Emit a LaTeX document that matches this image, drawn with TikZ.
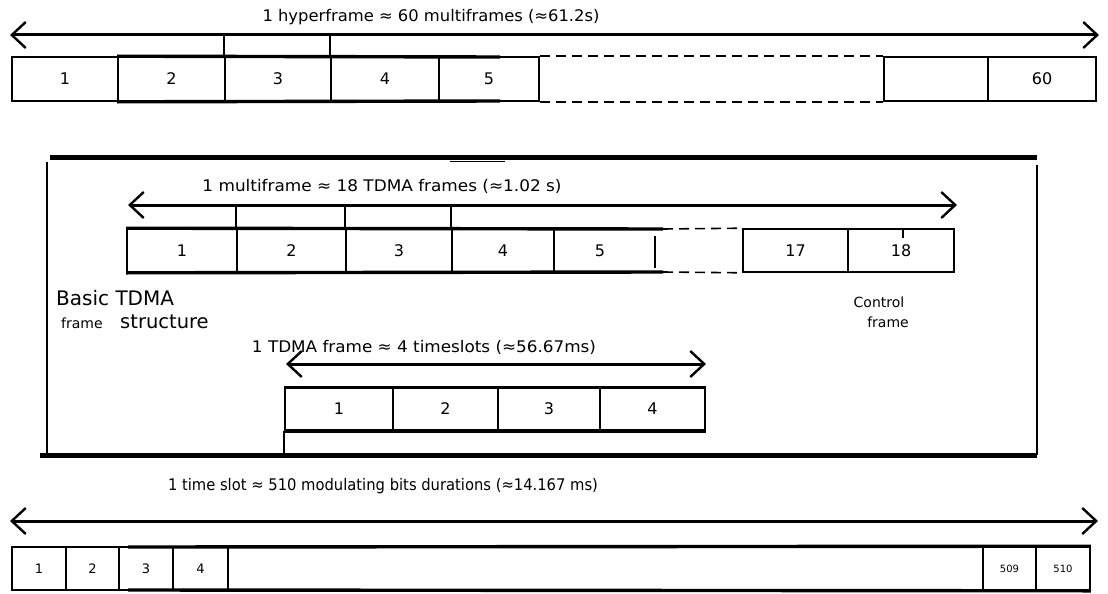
\documentclass[tikz,border=0pt]{standalone}
\usepackage{fontspec}
\setmainfont{DejaVu Sans}
\usepackage{graphicx}
\usetikzlibrary{arrows.meta}
\newcommand{\fitw}[2]{\resizebox{#1}{\height}{#2}}
\begin{document}
\begin{tikzpicture}[x=1pt,y=-1pt,
  >={Straight Barb[length=14pt,width=26pt,line width=2.4pt]},
  arr/.style={<->, line width=3pt},
  cell/.style={draw, line width=1.6pt, inner sep=0pt, font=\fontsize{16}{18}\selectfont},
  smallcell/.style={cell, font=\fontsize{10}{12}\selectfont},
  midcell/.style={cell, font=\fontsize{13}{15}\selectfont},
  thickline/.style={line width=3.4pt},
  frameline/.style={line width=5pt},
  sideline/.style={line width=2.6pt},
  conn/.style={line width=1.8pt},
  lbl/.style={inner sep=0pt, font=\fontsize{16}{18}\selectfont},
  dashline/.style={line width=1.6pt, dash pattern=on 10pt off 6pt}
]
\useasboundingbox (0,0) rectangle (1108,594);

% ---------------- hyperframe ----------------
\coordinate (ha) at (10,35);
\coordinate (hb) at (1099,35);
\draw[arr] (ha) -- (hb);
\node[lbl] (hl) at (431,17) {\fitw{337pt}{1 hyperframe ≈ 60 multiframes (≈61.2s)}};

\node[cell, minimum width=106pt, minimum height=44pt] (h1) at (65,79) {1};
\node[cell, minimum width=107pt, minimum height=44pt] (h2) at (171.5,79) {2};
\node[cell, minimum width=106pt, minimum height=44pt] (h3) at (278,79) {3};
\node[cell, minimum width=108pt, minimum height=44pt] (h4) at (385,79) {4};
\node[cell, minimum width=100pt, minimum height=44pt] (h5) at (489,79) {5};
\node[cell, minimum width=104pt, minimum height=44pt] (h59) at (936,79) {};
\node[cell, minimum width=108pt, minimum height=44pt] (h60) at (1042,79) {60};
\coordinate (h5t) at (500,57);
\coordinate (h5b) at (500,101);
\draw[thickline] (h2.north west) -- (h5t);
\draw[thickline] (h2.south west) -- (h5b);
\draw[dashline] (h5.north east) -- (h59.north west);
\draw[dashline] (h5.south east) -- (h59.south west);
\draw[conn] (h3.north west) -- (h3.north west |- ha);
\draw[conn] (h4.north west) -- (h4.north west |- ha);

% ---------------- basic TDMA frame structure box ----------------
\coordinate (fTL) at (50,157);
\coordinate (fTR) at (1037,157);
\coordinate (fBL) at (40,455);
\coordinate (fBR) at (1037,455);
\draw[frameline] (fTL) -- (fTR);
\draw[frameline] (fBL) -- (fBR);
\draw[sideline] (47,162) -- (47,455);
\draw[sideline] (1037,165) -- (fBR);
\coordinate (sa) at (450,161.5);
\coordinate (sb) at (505,161.5);
\draw[line width=1.4pt] (sa) -- (sb);

% multiframe
\coordinate (ma) at (128,205);
\coordinate (mb) at (957,205);
\draw[arr] (ma) -- (mb);
\node[lbl] (ml) at (382,186) {\fitw{359pt}{1 multiframe ≈ 18 TDMA frames (≈1.02 s)}};

\node[cell, minimum width=110pt, minimum height=43pt] (m1) at (182,250.5) {1};
\node[cell, minimum width=109pt, minimum height=43pt] (m2) at (291.5,250.5) {2};
\node[cell, minimum width=106pt, minimum height=43pt] (m3) at (399,250.5) {3};
\node[cell, minimum width=102pt, minimum height=43pt] (m4) at (503,250.5) {4};
\node[cell, draw=none, minimum width=101pt, minimum height=43pt] (m5) at (600,250.5) {5};
\node[cell, minimum width=105pt, minimum height=43pt] (m17) at (795.5,250.5) {17};
\node[cell, minimum width=106pt, minimum height=43pt] (m18) at (901,250.5) {18};
\coordinate (m5t) at (663,229);
\coordinate (m5b) at (663,272);
\draw[thickline] (m1.north west) -- (m5t);
\draw[thickline] (m1.south west) -- (m5b);
\draw[line width=1.6pt] (655,236) -- (655,268);
\draw[dashline] (m5t) -- (m17.north west);
\draw[dashline] (m5b) -- (m17.south west);
\draw[conn] (m2.north west) -- (m2.north west |- ma);
\draw[conn] (m3.north west) -- (m3.north west |- ma);
\draw[conn] (m4.north west) -- (m4.north west |- ma);
\draw[line width=1.6pt] (903,229) -- (903,238);

\node[lbl, anchor=west, font=\fontsize{20}{22}\selectfont] (basic) at (56,298) {Basic TDMA};
\node[lbl, anchor=base west, font=\fontsize{14}{16}\selectfont] (fr1) at (61,328) {frame};
\node[lbl, anchor=base west, font=\fontsize{19.5}{22}\selectfont] (struct) at (120,328) {structure};
\node[lbl, font=\fontsize{14}{16}\selectfont] (ctl) at (879,302) {Control};
\node[lbl, font=\fontsize{14}{16}\selectfont] (ctf) at (888,322) {frame};

% TDMA frame
\coordinate (ta) at (286,364);
\coordinate (tb) at (706,364);
\draw[arr] (ta) -- (tb);
\node[lbl] (tl) at (424,347) {\fitw{344pt}{1 TDMA frame ≈ 4 timeslots (≈56.67ms)}};
\node[cell, minimum width=108pt, minimum height=42pt] (t1) at (339,409) {1};
\node[cell, minimum width=105pt, minimum height=42pt] (t2) at (445.5,409) {2};
\node[cell, minimum width=102pt, minimum height=42pt] (t3) at (549,409) {3};
\node[cell, minimum width=105pt, minimum height=42pt] (t4) at (652.5,409) {4};
\draw[line width=2.2pt] (t1.north west) -- (t4.north east);
\draw[thickline] (t1.south west) -- (t4.south east);
\draw[conn] (t1.south west) -- (t1.south west |- fBL);

% ---------------- time slot ----------------
\coordinate (sla) at (10,521);
\coordinate (slb) at (1098,521);
\draw[arr] (sla) -- (slb);
\node[lbl] (sl) at (383,486) {\fitw{430pt}{1 time slot ≈ 510 modulating bits durations (≈14.167 ms)}};
\node[midcell, minimum width=54pt, minimum height=43pt] (b1) at (39,568.5) {1};
\node[midcell, minimum width=53pt, minimum height=43pt] (b2) at (92.5,568.5) {2};
\node[midcell, minimum width=54pt, minimum height=43pt] (b3) at (146,568.5) {3};
\node[midcell, minimum width=55pt, minimum height=43pt] (b4) at (200.5,568.5) {4};
\node[cell, minimum width=755pt, minimum height=43pt] (bm) at (605.5,568.5) {};
\node[smallcell, minimum width=53pt, minimum height=43pt] (b509) at (1009.5,568.5) {509};
\node[smallcell, minimum width=54pt, minimum height=43pt] (b510) at (1063,568.5) {510};
\coordinate (bt) at (128,547);
\coordinate (bb) at (128,590);
\draw[thickline] (bt) -- (b510.north east);
\draw[thickline] (bb) -- (b510.south east);
\end{tikzpicture}
\end{document}
